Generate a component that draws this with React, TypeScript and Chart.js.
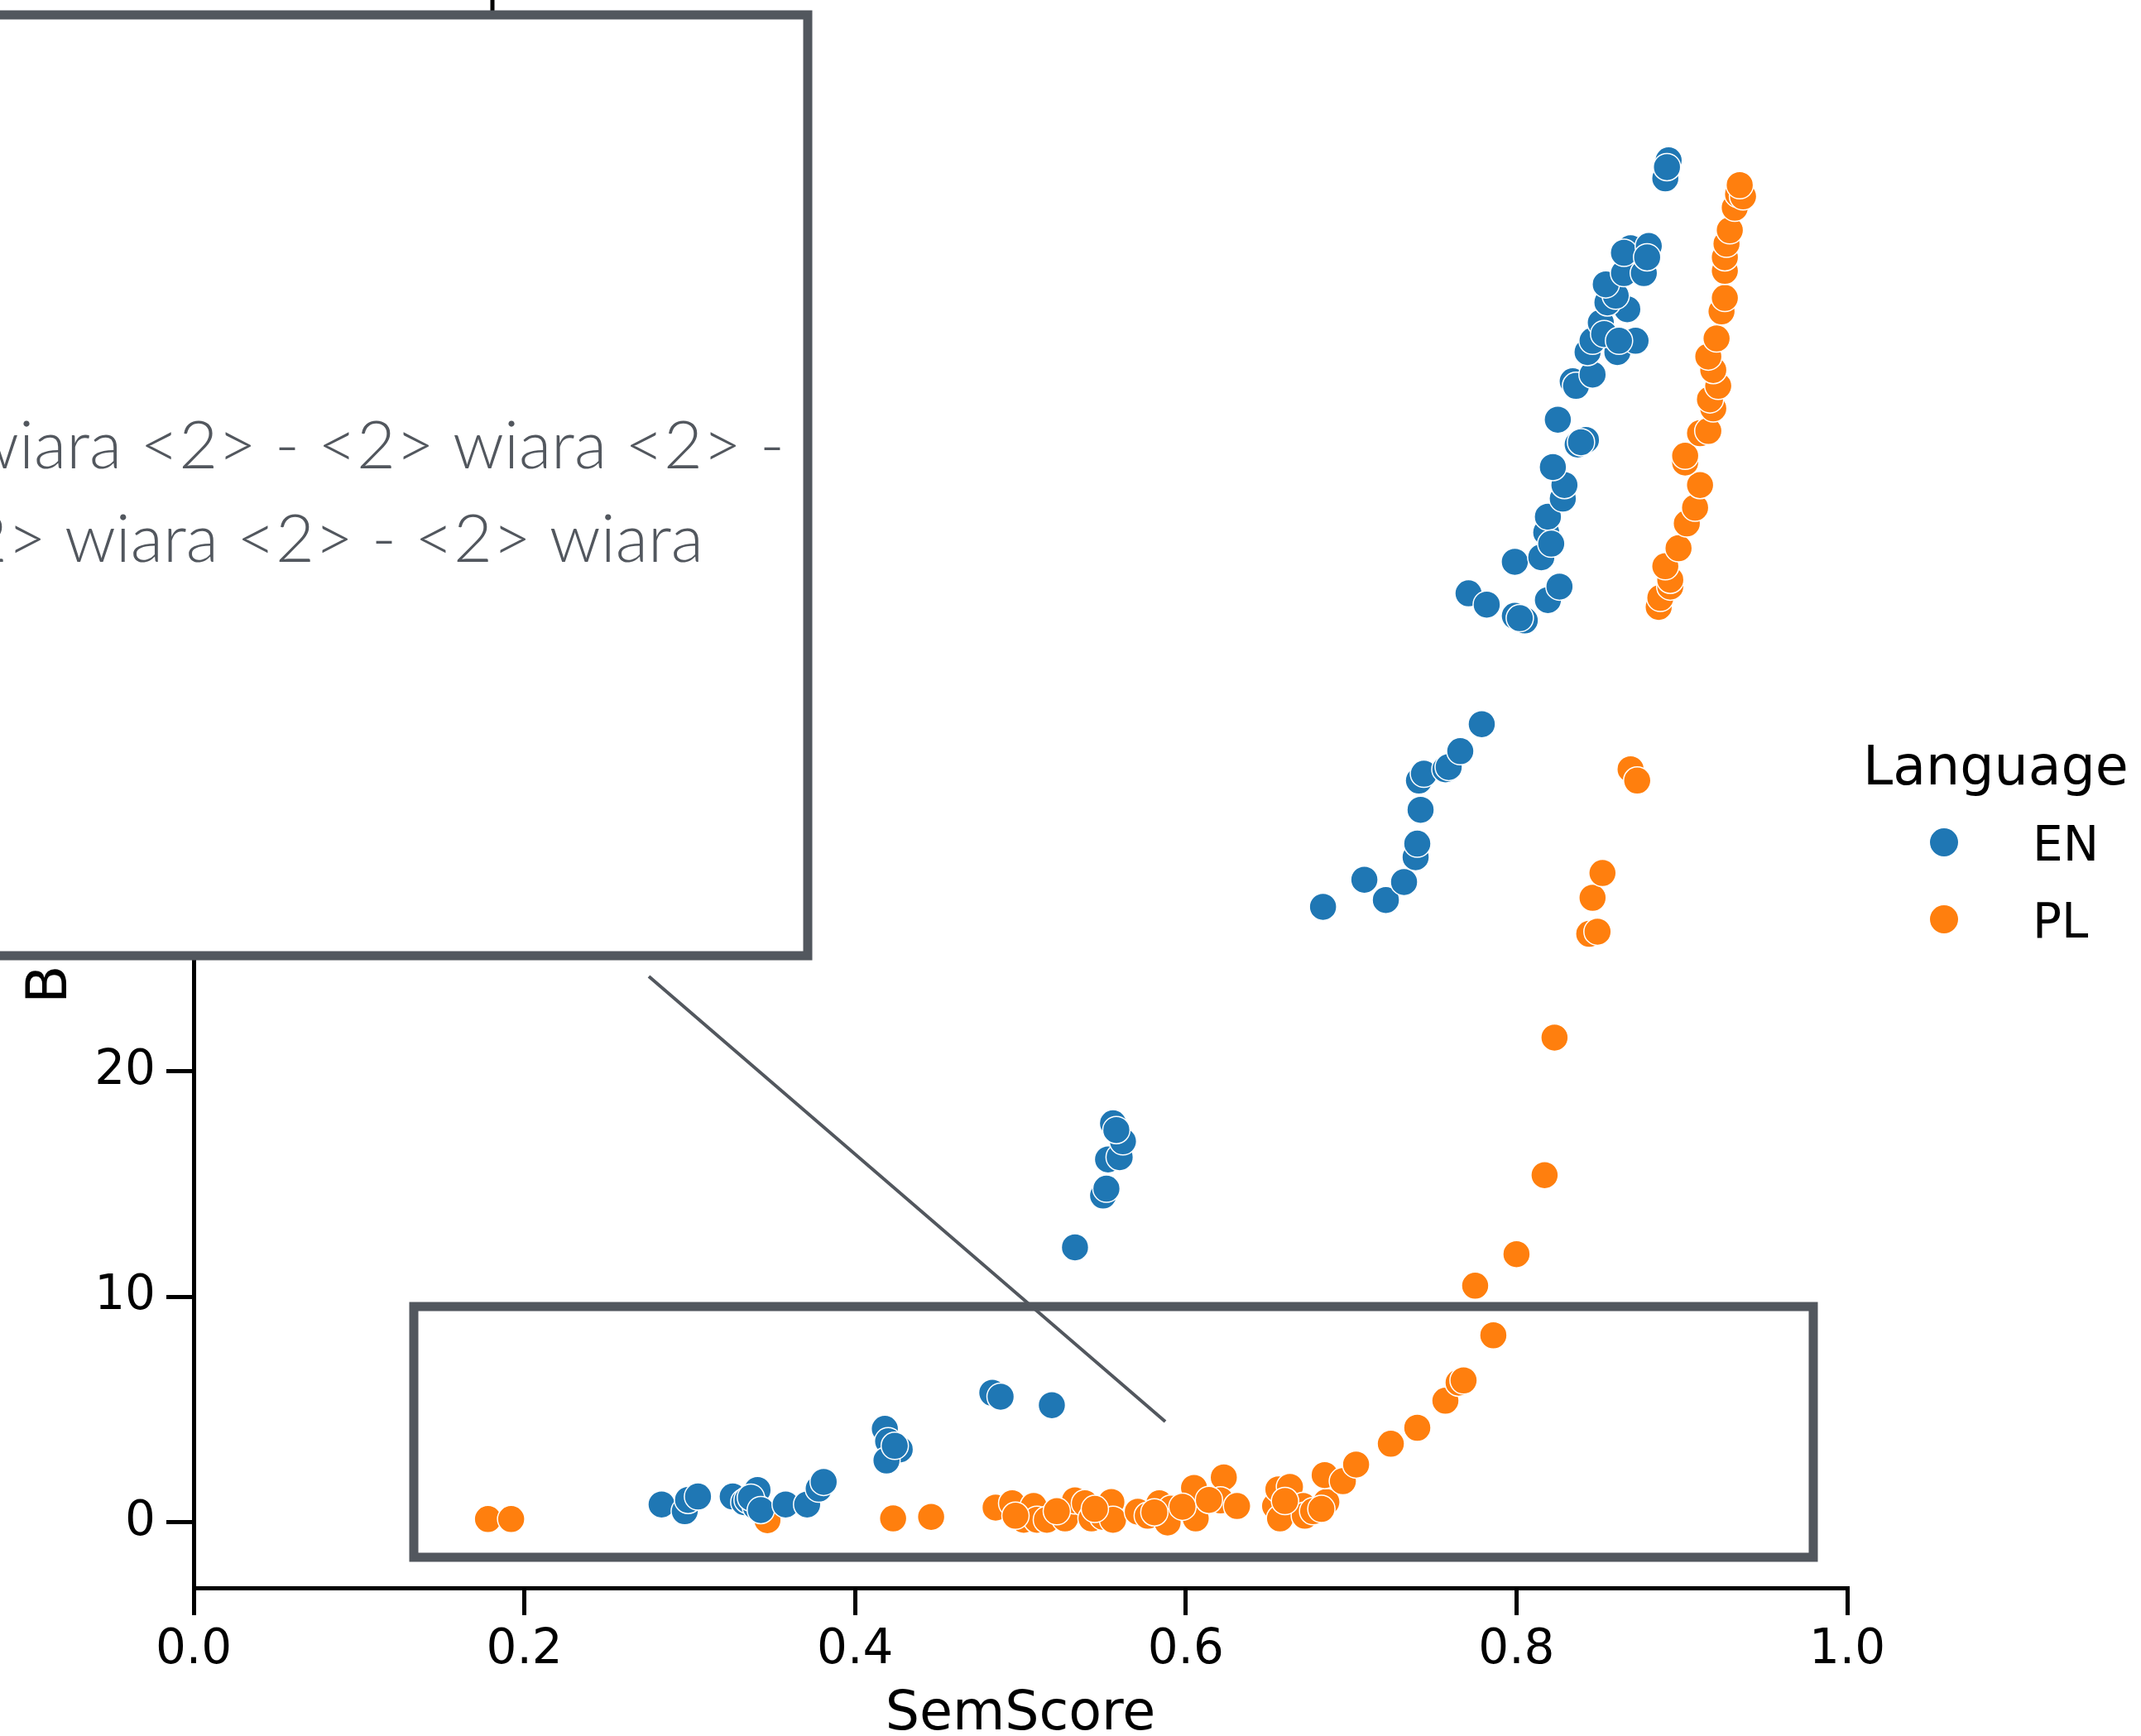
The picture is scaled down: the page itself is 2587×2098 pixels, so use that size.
import { useEffect, useRef } from "react";
import { Chart, registerables } from "chart.js";

Chart.register(...registerables);

// SemScore (x) and BLEU (y) per language
const enSemScore = [
  0.283, 0.297, 0.299, 0.305, 0.326, 0.333, 0.335, 0.341, 0.34, 0.337, 0.343, 0.358, 0.371, 0.378, 0.381,
  0.418, 0.42, 0.427, 0.419, 0.424,
  0.483, 0.488, 0.519,
  0.533, 0.55, 0.552, 0.553, 0.56, 0.562, 0.556, 0.558,
  0.683, 0.708, 0.721, 0.732, 0.739, 0.74, 0.742, 0.741, 0.744, 0.757, 0.759, 0.766, 0.779,
  0.771, 0.782, 0.799, 0.805, 0.802, 0.819, 0.826, 0.799, 0.815, 0.818, 0.819, 0.821, 0.828, 0.829, 0.822,
  0.837, 0.842, 0.839, 0.825, 0.834, 0.836, 0.846, 0.843, 0.861, 0.872, 0.846, 0.851, 0.853, 0.867, 0.855,
  0.86, 0.854, 0.865, 0.877, 0.869, 0.865, 0.88, 0.879, 0.862,
  0.89, 0.892, 0.891,
];
const enBleu = [
  0.8, 0.5, 1.0, 1.15, 1.15, 0.9, 1.0, 1.44, 0.7, 1.1, 0.55, 0.8, 0.8, 1.5, 1.8,
  4.15, 3.6, 3.24, 2.75, 3.4,
  5.75, 5.58, 5.2,
  12.2, 14.5, 14.8, 16.1, 16.2, 16.9, 17.7, 17.4,
  27.3, 28.5, 27.6, 28.4, 29.5, 30.1, 31.6, 32.9, 33.2, 33.4, 33.5, 34.2, 35.4,
  41.2, 40.7, 40.2, 40.0, 40.1, 40.9, 41.5, 42.6, 42.8, 43.9, 44.6, 43.4, 45.4, 46.0, 46.8,
  47.8, 48.0, 47.9, 48.9, 50.6, 50.4, 50.9, 51.9, 51.9, 52.4, 52.4, 53.2, 52.7, 53.8, 54.1,
  54.4, 54.9, 55.4, 55.4, 56.5, 56.3, 56.6, 56.1, 52.4,
  59.6, 60.4, 60.1,
];

const plSemScore = [
  0.178, 0.192, 0.347, 0.423, 0.446,
  0.485, 0.495, 0.502, 0.508, 0.51, 0.516, 0.527, 0.533, 0.539, 0.543, 0.55, 0.555, 0.556, 0.571, 0.577,
  0.584, 0.591, 0.589, 0.605, 0.606, 0.623, 0.621, 0.631, 0.654, 0.657, 0.656, 0.663, 0.671, 0.672, 0.685,
  0.684, 0.695, 0.703, 0.497, 0.522, 0.545, 0.581, 0.598, 0.614, 0.66, 0.677, 0.682,
  0.724, 0.74, 0.757, 0.765, 0.768, 0.786, 0.775, 0.8, 0.817, 0.823,
  0.844, 0.849, 0.846, 0.852, 0.869, 0.873,
  0.886, 0.887, 0.893, 0.893, 0.89, 0.898, 0.903, 0.908, 0.911, 0.902, 0.902, 0.911, 0.916, 0.919, 0.917,
  0.922, 0.919, 0.916, 0.921, 0.924, 0.926, 0.926, 0.926, 0.927, 0.929, 0.932, 0.934, 0.937, 0.935,
];
const plBleu = [
  0.15, 0.15, 0.1, 0.18, 0.25,
  0.66, 0.85, 0.12, 0.73, 0.12, 0.12, 0.18, 0.98, 0.85, 0.18, 0.25, 0.91, 0.12, 0.48, 0.3,
  0.85, 0.61, 0.0, 1.53, 0.18, 2.0, 0.98, 0.73, 0.73, 0.18, 1.47, 1.58, 0.73, 0.3, 0.91,
  2.1, 1.83, 2.57, 0.3, 0.5, 0.6, 0.45, 0.7, 1.0, 0.95, 0.5, 0.6,
  3.49, 4.2, 5.4, 6.2, 6.3, 8.3, 10.5, 11.9, 15.4, 21.5,
  26.1, 26.2, 27.7, 28.8, 33.4, 32.9,
  40.6, 41.0, 41.5, 41.8, 42.4, 43.2, 44.3, 45.0, 46.0, 47.0, 47.3, 48.3, 48.4, 49.4, 49.8,
  50.4, 51.1, 51.7, 52.5, 53.7, 54.3, 55.5, 56.1, 56.7, 57.3, 58.3, 58.9, 58.8, 59.3,
];

const languages = ["EN", "PL"];
const xTickValues = [0, 0.2, 0.4, 0.6, 0.8, 1.0];
const yTickValues = [0, 10, 20, 30, 40, 50, 60];
const snippetLines = ["- <2> wiara <2> - <2> wiara <2> -", "<2> - <2> wiara <2> - <2> wiara"];

const BLUE = "#1f77b4";
const ORANGE = "#ff7f0e";
const SLATE = "#52575e";
const FONT = '"DejaVu Sans", sans-serif';

const W = 2587;
const H = 2098;

function rect(ctx: CanvasRenderingContext2D, l: number, t: number, r: number, b: number) {
  ctx.beginPath();
  ctx.rect(l, t, r - l, b - t);
}

const overlayPlugin = {
  id: "overlay",
  afterDraw(chart: any) {
    const ctx: CanvasRenderingContext2D = chart.ctx;
    ctx.save();

    // y-axis title (mostly covered by the snippet panel)
    ctx.save();
    ctx.translate(80, 1213);
    ctx.rotate(-Math.PI / 2);
    ctx.font = `68px ${FONT}`;
    ctx.fillStyle = "#000";
    ctx.textAlign = "left";
    ctx.textBaseline = "alphabetic";
    ctx.fillText("BLEU", 0, 0);
    ctx.restore();

    // highlight frame around the low-score region
    ctx.strokeStyle = SLATE;
    ctx.lineWidth = 11;
    rect(ctx, 500, 1579, 2191, 1882);
    ctx.stroke();

    // connector from the panel to the frame
    ctx.lineWidth = 4;
    ctx.beginPath();
    ctx.moveTo(784, 1180);
    ctx.lineTo(1408, 1718);
    ctx.stroke();

    // stub above the panel
    ctx.strokeStyle = "#000";
    ctx.lineWidth = 5;
    ctx.beginPath();
    ctx.moveTo(595, 0);
    ctx.lineTo(595, 14);
    ctx.stroke();

    // snippet panel
    ctx.fillStyle = "#fff";
    rect(ctx, -20, 18, 976, 1155);
    ctx.fill();
    ctx.strokeStyle = SLATE;
    ctx.lineWidth = 11;
    ctx.stroke();

    ctx.fillStyle = SLATE;
    ctx.font = '300 81px Lato, "Open Sans", sans-serif';
    ctx.textAlign = "right";
    ctx.textBaseline = "alphabetic";
    ctx.fillText(snippetLines[0], 948, 566);
    ctx.fillText(snippetLines[1], 850, 679);

    // legend
    ctx.fillStyle = "#000";
    ctx.textAlign = "left";
    ctx.font = `65px ${FONT}`;
    ctx.fillText("Language", 2251, 948);
    const colors = [BLUE, ORANGE];
    languages.forEach((lang, i) => {
      const cy = 1018 + i * 93;
      ctx.beginPath();
      ctx.arc(2349, cy, 17, 0, Math.PI * 2);
      ctx.fillStyle = colors[i];
      ctx.fill();
      ctx.fillStyle = "#000";
      ctx.font = `58px ${FONT}`;
      ctx.fillText(lang, 2456, cy + 22);
    });

    ctx.restore();
  },
};

export default function App() {
  const canvasRef = useRef<HTMLCanvasElement>(null);

  useEffect(() => {
    const canvas = canvasRef.current;
    if (!canvas) return;
    const toPoints = (xs: number[], ys: number[]) => xs.map((x, i) => ({ x, y: ys[i] }));
    const axisCommon = {
      type: "linear" as const,
      grid: {
        drawOnChartArea: false,
        drawTicks: true,
        tickLength: 33,
        tickWidth: 5,
        tickColor: "#000",
        color: "#000",
        lineWidth: 5,
      },
      border: { display: true, color: "#000", width: 5 },
    };
    const pointStyle = {
      borderColor: "#ffffff",
      borderWidth: 1.5,
      pointRadius: 16.5,
      pointHoverRadius: 16.5,
    };

    const chart = new Chart(canvas, {
      type: "scatter",
      data: {
        datasets: [
          { label: languages[0], data: toPoints(enSemScore, enBleu), backgroundColor: BLUE, ...pointStyle },
          { label: languages[1], data: toPoints(plSemScore, plBleu), backgroundColor: ORANGE, ...pointStyle },
        ],
      },
      options: {
        responsive: false,
        animation: false,
        devicePixelRatio: 1,
        events: [],
        layout: { padding: { left: 0, top: 112, right: W - 2232, bottom: 0 } },
        plugins: { legend: { display: false }, tooltip: { enabled: false } },
        scales: {
          x: {
            ...axisCommon,
            min: 0,
            max: 1,
            afterFit: (s: any) => {
              s.height = H - 1919;
            },
            afterBuildTicks: (s: any) => {
              s.ticks = xTickValues.map((v) => ({ value: v }));
            },
            ticks: {
              font: { family: FONT, size: 58 },
              color: "#000",
              padding: 8,
              maxRotation: 0,
              autoSkip: false,
              callback: (v: any) => Number(v).toFixed(1),
            },
            title: {
              display: true,
              text: "SemScore",
              color: "#000",
              font: { family: FONT, size: 65, lineHeight: 0.78 },
              padding: { top: 0, bottom: 0 },
            },
          },
          y: {
            ...axisCommon,
            min: -2.9,
            max: 63.4,
            afterFit: (s: any) => {
              s.width = 234;
            },
            afterBuildTicks: (s: any) => {
              s.ticks = yTickValues.map((v) => ({ value: v }));
            },
            ticks: {
              font: { family: FONT, size: 58 },
              color: "#000",
              padding: 13,
              autoSkip: false,
              callback: (v: any) => String(v),
            },
          },
        },
      },
      plugins: [overlayPlugin],
    });
    return () => chart.destroy();
  }, []);

  return (
    <div style={{ position: "absolute", left: 0, top: 0, width: W, height: H, background: "#fff" }}>
      <canvas ref={canvasRef} width={W} height={H} style={{ display: "block", width: W, height: H }} />
    </div>
  );
}
